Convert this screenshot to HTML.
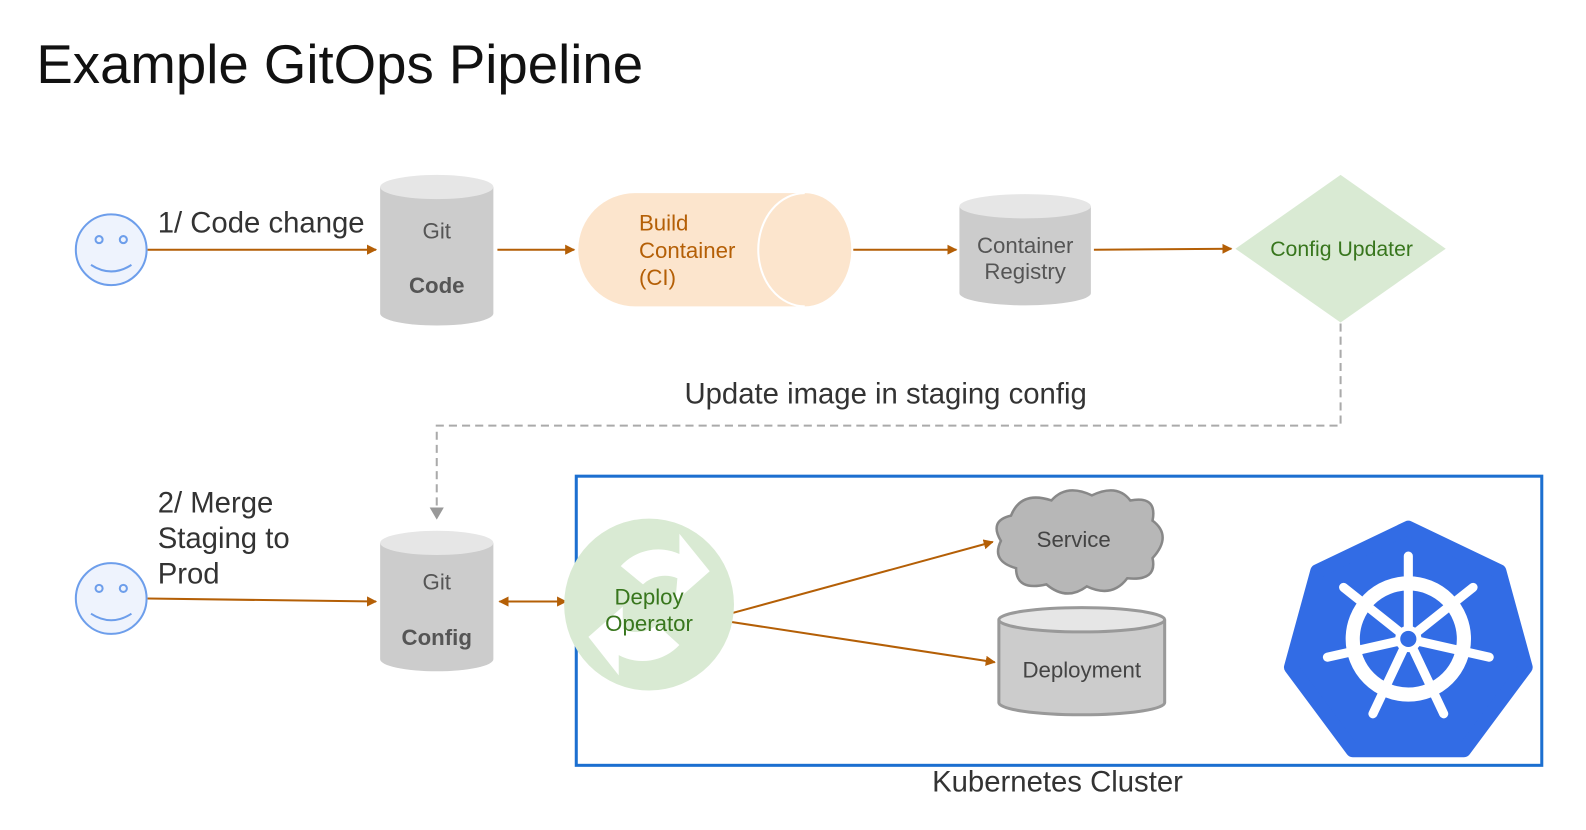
<!DOCTYPE html>
<html><head><meta charset="utf-8"><style>
html,body{margin:0;padding:0;background:#fff;}
svg{display:block;}
text{font-family:"Liberation Sans",Arial,sans-serif;}
</style></head><body>
<svg width="1586" height="830" viewBox="0 0 1586 830" xmlns="http://www.w3.org/2000/svg">
<defs>
<marker id="ar" markerWidth="10" markerHeight="10" refX="9" refY="5" orient="auto" markerUnits="userSpaceOnUse" viewBox="0 0 10 10"><path d="M0,0 L10,5 L0,10 z" fill="#b45f06"/></marker>
<marker id="arL" markerWidth="10" markerHeight="10" refX="1" refY="5" orient="auto" markerUnits="userSpaceOnUse" viewBox="0 0 10 10"><path d="M10,0 L0,5 L10,10 z" fill="#b45f06"/></marker>
<marker id="ag" markerWidth="12" markerHeight="14" refX="10" refY="7" orient="auto" markerUnits="userSpaceOnUse" viewBox="0 0 12 14"><path d="M0,0 L12,7 L0,14 z" fill="#999"/></marker>
</defs>
<g transform="scale(1.011)">
<text x="36" y="82" font-size="54" fill="#111">Example GitOps Pipeline</text>

<g stroke="#6d9eeb" stroke-width="2" fill="none">
<circle cx="110" cy="247" r="35" fill="#eef3fd"/>
<circle cx="98" cy="237" r="3.5"/><circle cx="122" cy="237" r="3.5"/>
<path d="M90,262 Q110,275 130,262"/>
<circle cx="110" cy="592" r="35" fill="#eef3fd"/>
<circle cx="98" cy="582" r="3.5"/><circle cx="122" cy="582" r="3.5"/>
<path d="M90,607 Q110,620 130,607"/>
</g>

<g stroke="#b45f06" stroke-width="2" fill="none">
<line x1="146" y1="247" x2="372" y2="247" marker-end="url(#ar)"/>
<line x1="492" y1="247" x2="568" y2="247" marker-end="url(#ar)"/>
<line x1="844" y1="247" x2="946" y2="247" marker-end="url(#ar)"/>
<line x1="1082" y1="247" x2="1218" y2="246" marker-end="url(#ar)"/>
<line x1="146" y1="592" x2="372" y2="595" marker-end="url(#ar)"/>
<line x1="494" y1="595" x2="560" y2="595" marker-start="url(#arL)" marker-end="url(#ar)"/>
<line x1="722" y1="607" x2="982" y2="536" marker-end="url(#ar)"/>
<line x1="722" y1="615" x2="984" y2="655" marker-end="url(#ar)"/>
</g>

<text x="156" y="230" font-size="29" fill="#333">1/ Code change</text>
<text x="156" y="507" font-size="29" fill="#333">2/ Merge</text>
<text x="156" y="542" font-size="29" fill="#333">Staging to</text>
<text x="156" y="577" font-size="29" fill="#333">Prod</text>

<path d="M376,185 L376,310 A56,12 0 0 0 488,310 L488,185 Z" fill="#cccccc"/>
<ellipse cx="432" cy="185" rx="56" ry="12" fill="#e6e6e6"/>
<text x="432" y="236" font-size="22" fill="#555" text-anchor="middle">Git</text>
<text x="432" y="290" font-size="22" fill="#555" text-anchor="middle" font-weight="bold">Code</text>

<path d="M376,537 L376,652 A56,12 0 0 0 488,652 L488,537 Z" fill="#cccccc"/>
<ellipse cx="432" cy="537" rx="56" ry="12" fill="#e6e6e6"/>
<text x="432" y="583" font-size="22" fill="#555" text-anchor="middle">Git</text>
<text x="432" y="638" font-size="22" fill="#555" text-anchor="middle" font-weight="bold">Config</text>

<path d="M628,191 L796,191 A46,56 0 0 1 796,303 L628,303 A56,56 0 0 1 628,191 Z" fill="#fce5cd"/>
<path d="M796,191 A46,56 0 0 0 796,303" fill="none" stroke="#fff" stroke-width="2"/>
<text x="632" y="228" font-size="22" fill="#b45f06">Build</text>
<text x="632" y="255" font-size="22" fill="#b45f06">Container</text>
<text x="632" y="282" font-size="22" fill="#b45f06">(CI)</text>

<path d="M949,204 L949,290 A65,12 0 0 0 1079,290 L1079,204 Z" fill="#cccccc"/>
<ellipse cx="1014" cy="204" rx="65" ry="12" fill="#e6e6e6"/>
<text x="1014" y="250" font-size="22" fill="#555" text-anchor="middle">Container</text>
<text x="1014" y="276" font-size="22" fill="#555" text-anchor="middle">Registry</text>

<polygon points="1326,173 1430,246 1326,319 1222,246" fill="#d9ead3"/>
<text x="1327" y="253" font-size="21" fill="#38761d" text-anchor="middle">Config Updater</text>

<path d="M1326,320 L1326,421 L432,421 L432,512" fill="none" stroke="#aaa" stroke-width="2" stroke-dasharray="8,5" marker-end="url(#ag)"/>
<text x="876" y="399" font-size="29" fill="#333" text-anchor="middle">Update image in staging config</text>

<rect x="570" y="471" width="955" height="286" fill="none" stroke="#1c6fd0" stroke-width="3"/>
<text x="1046" y="783" font-size="29" fill="#333" text-anchor="middle">Kubernetes Cluster</text>

<ellipse cx="642" cy="598" rx="84" ry="85" fill="#d9ead3"/>
<path d="M614,560 A50,50 0 0 1 672,548 L672,528 L702,565 L668,595 L670,572 A32,32 0 0 0 636,578 Z" fill="#fff"/>
<path d="M672,638 A50,50 0 0 1 612,648 L612,668 L582,630 L616,600 L616,622 A32,32 0 0 0 650,618 Z" fill="#fff"/>
<text x="642" y="598" font-size="22" fill="#38761d" text-anchor="middle">Deploy</text>
<text x="642" y="624" font-size="22" fill="#38761d" text-anchor="middle">Operator</text>

<g fill="#b7b7b7" stroke="#888" stroke-width="2.5">
<path d="M1000,510 Q1010,485 1040,495 Q1055,478 1080,490 Q1105,478 1118,495 Q1145,490 1140,515 Q1160,530 1140,552 Q1145,575 1115,572 Q1100,592 1075,580 Q1055,595 1035,578 Q1005,585 1005,562 Q980,555 990,535 Q978,515 1000,510 Z"/>
</g>
<text x="1062" y="541" font-size="22" fill="#444" text-anchor="middle">Service</text>

<path d="M988,613 L988,695 A82,12 0 0 0 1152,695 L1152,613" fill="#cccccc" stroke="#999" stroke-width="3"/>
<ellipse cx="1070" cy="613" rx="82" ry="12" fill="#e6e6e6" stroke="#999" stroke-width="3"/>
<text x="1070" y="670" font-size="22" fill="#444" text-anchor="middle">Deployment</text>

<g transform="translate(13,0)">
<polygon points="1380,522 1470,565 1496,660 1435,742 1325,742 1264,660 1290,565" fill="#326ce5" stroke="#326ce5" stroke-width="14" stroke-linejoin="round"/>
<g stroke="#fff" stroke-linecap="round" fill="none">
<circle cx="1380" cy="632" r="55" stroke-width="14"/>
<g stroke-width="9">
<line x1="1380" y1="632" x2="1380" y2="550"/>
<line x1="1380" y1="632" x2="1444" y2="581"/>
<line x1="1380" y1="632" x2="1460" y2="650"/>
<line x1="1380" y1="632" x2="1415" y2="706"/>
<line x1="1380" y1="632" x2="1345" y2="706"/>
<line x1="1380" y1="632" x2="1300" y2="650"/>
<line x1="1380" y1="632" x2="1316" y2="581"/>
</g>
</g>
<circle cx="1380" cy="632" r="13" fill="#fff"/>
<circle cx="1380" cy="632" r="8" fill="#326ce5"/>
</g>
</g>
</svg>
</body></html>
